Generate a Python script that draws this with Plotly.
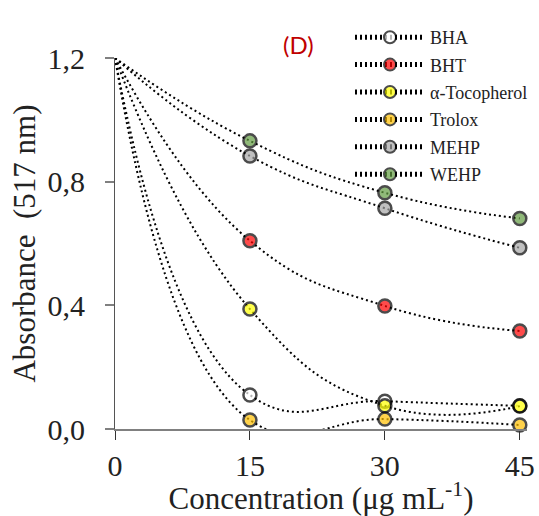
import plotly.graph_objects as go

conc = [0, 15, 30, 45]
series_names = ["BHA", "BHT", "α-Tocopherol", "Trolox", "MEHP", "WEHP"]
bha = [1.2, 0.110, 0.090, 0.075]
bht = [1.2, 0.609, 0.398, 0.317]
toco = [1.2, 0.388, 0.075, 0.074]
trolox = [1.2, 0.029, 0.032, 0.013]
mehp = [1.2, 0.883, 0.714, 0.586]
wehp = [1.2, 0.932, 0.764, 0.681]
series_values = [bha, bht, toco, trolox, mehp, wehp]
fill_colors = ["#FFFFFF", "#FF0000", "#FFFF00", "#FFC000", "#A6A6A6", "#629C41"]

y_ticks = [0.0, 0.4, 0.8, 1.2]
x_ticks = [0, 15, 30, 45]

fig = go.Figure()
for i, (name, vals, col) in enumerate(zip(series_names, series_values, fill_colors)):
    fig.add_trace(go.Scatter(
        x=conc, y=vals, name=name, mode="lines+markers",
        line=dict(color="black", width=2, dash="2px,3px", shape="spline", smoothing=1.3),
        marker=dict(size=[0, 13, 13, 13], color=col,
                    line=dict(color="black", width=2.5)),
        cliponaxis=False, legendgroup="g%d" % i,
    ))

serif = "Liberation Serif, Times New Roman, serif"
fig.update_layout(
    width=539, height=516,
    margin=dict(l=115, r=12, t=58, b=87, autoexpand=False),
    plot_bgcolor="white", paper_bgcolor="white",
    separators=",.",
    font=dict(family=serif, color="#222222"),
    showlegend=True,
    legend=dict(
        x=(350 - 115) / 412, y=(429 - 19) / 371,
        xanchor="left", yanchor="top", itemwidth=70,
        font=dict(family=serif, size=18, color="#222222"),
        bgcolor="rgba(0,0,0,0)", itemsizing="constant",
        tracegroupgap=1, traceorder="grouped",
    ),
    xaxis=dict(
        range=[0, 45.8], tickvals=x_ticks, ticks="outside", ticklen=9,
        tickcolor="#333333", tickwidth=1, showline=True, linecolor="#808080",
        linewidth=2, showgrid=False, zeroline=False,
        tickfont=dict(family=serif, size=30, color="#222222"),
        title=dict(text="Concentration (μg mL<sup>-1</sup>)", standoff=5,
                   font=dict(family=serif, size=31, color="#222222")),
    ),
    yaxis=dict(
        range=[0, 1.2], tickvals=y_ticks, tickformat=".1f", ticks="outside",
        ticklen=9, tickcolor="#808080", tickwidth=2, showline=True,
        linecolor="#555555", linewidth=1, showgrid=False, zeroline=False,
        ticklabelstandoff=14,
        tickfont=dict(family=serif, size=30, color="#222222"),
        title=dict(text="Absorbance \u00a0(517 nm)", standoff=2,
                   font=dict(family=serif, size=31, color="#222222")),
    ),
    annotations=[dict(
        text="(D)", xref="paper", yref="paper", x=(298 - 115) / 412,
        y=(429 - 45) / 371, showarrow=False, xanchor="center", yanchor="middle",
        font=dict(family="Lato, Open Sans, sans-serif", size=24, color="#C00000"),
    )],
)

fig.write_html("out.html")
